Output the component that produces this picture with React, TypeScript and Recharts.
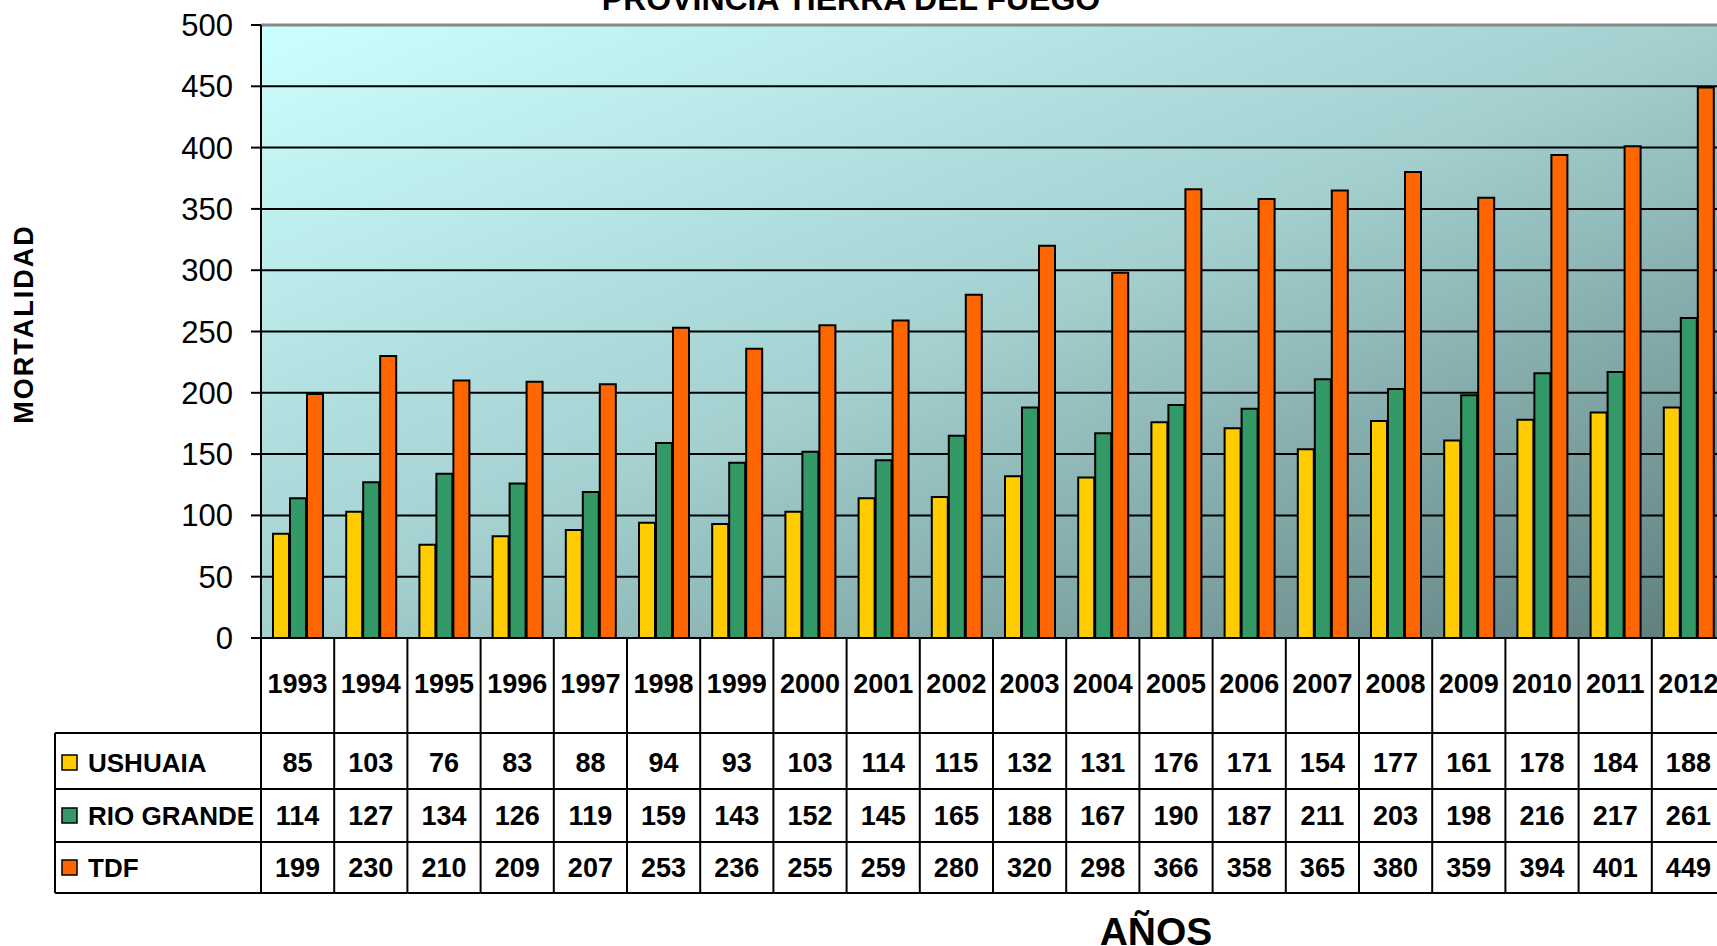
import { BarChart, Bar, XAxis, YAxis, CartesianGrid, ReferenceLine } from "recharts";

const years = [
  "1993", "1994", "1995", "1996", "1997", "1998", "1999", "2000", "2001", "2002",
  "2003", "2004", "2005", "2006", "2007", "2008", "2009", "2010", "2011", "2012",
];
const ushuaia = [85, 103, 76, 83, 88, 94, 93, 103, 114, 115, 132, 131, 176, 171, 154, 177, 161, 178, 184, 188];
const rioGrande = [114, 127, 134, 126, 119, 159, 143, 152, 145, 165, 188, 167, 190, 187, 211, 203, 198, 216, 217, 261];
const tdf = [199, 230, 210, 209, 207, 253, 236, 255, 259, 280, 320, 298, 366, 358, 365, 380, 359, 394, 401, 449];
const yTicks = [0, 50, 100, 150, 200, 250, 300, 350, 400, 450, 500];

const series = [
  { key: "ushuaia", name: "USHUAIA", color: "#FFCC00", values: ushuaia },
  { key: "rioGrande", name: "RIO GRANDE", color: "#339966", values: rioGrande },
  { key: "tdf", name: "TDF", color: "#FF6600", values: tdf },
];

const data = years.map((year, i) => ({
  year,
  ushuaia: ushuaia[i],
  rioGrande: rioGrande[i],
  tdf: tdf[i],
}));

const CHART_W = 1745;
const CHART_H = 946;
const MARGIN = { top: 25, right: 20, bottom: 53, left: 201 };
const Y_AXIS_W = 60;
const X_AXIS_H = 255;
const COL_W = (CHART_W - MARGIN.left - Y_AXIS_W - MARGIN.right) / years.length;

// row boundaries, relative to the axis line
const ROW_LINES = [95, 151, 204, 255];
const ROW_TEXT = [125, 178, 230];
const FONT = "'Liberation Sans', Arial, sans-serif";

function TableTick(props: any) {
  const { x, y, payload, index } = props;
  const left = x - COL_W / 2;
  const right = x + COL_W / 2;
  const textStyle = { fontFamily: FONT, fontWeight: "bold" as const, fontSize: 27, fill: "#000" };
  return (
    <g>
      {index === 0 && (
        <g>
          <line x1={left} y1={y} x2={left} y2={y + X_AXIS_H} stroke="#000" strokeWidth={2} />
          <line x1={55} y1={y + ROW_LINES[0]} x2={55} y2={y + X_AXIS_H} stroke="#000" strokeWidth={2} />
          {ROW_LINES.map((ry) => (
            <line key={ry} x1={55} y1={y + ry} x2={left} y2={y + ry} stroke="#000" strokeWidth={2} />
          ))}
          {series.map((s, i) => (
            <g key={s.key}>
              <rect x={62} y={y + ROW_TEXT[i] - 8} width={15} height={15} fill={s.color} stroke="#000" strokeWidth={1.5} />
              <text x={88} y={y + ROW_TEXT[i]} dominantBaseline="central" {...textStyle} fontSize={26}>
                {s.name}
              </text>
            </g>
          ))}
        </g>
      )}
      <line x1={right} y1={y} x2={right} y2={y + X_AXIS_H} stroke="#000" strokeWidth={2} />
      {ROW_LINES.map((ry) => (
        <line key={ry} x1={left} y1={y + ry} x2={right} y2={y + ry} stroke="#000" strokeWidth={2} />
      ))}
      <text x={x} y={y + 46} textAnchor="middle" dominantBaseline="central" {...textStyle}>
        {payload.value}
      </text>
      {series.map((s, i) => (
        <text key={s.key} x={x} y={y + ROW_TEXT[i]} textAnchor="middle" dominantBaseline="central" {...textStyle}>
          {s.values[index]}
        </text>
      ))}
    </g>
  );
}

export default function App() {
  return (
    <div
      style={{
        position: "absolute",
        left: 0,
        top: 0,
        width: 1717,
        height: 946,
        overflow: "hidden",
        background: "#fff",
        fontFamily: FONT,
      }}
    >
      <BarChart
        width={CHART_W}
        height={CHART_H}
        data={data}
        margin={MARGIN}
        barCategoryGap={12}
        barGap={1}
      >
        <defs>
          <linearGradient id="plotBg" x1="0" y1="0" x2="1" y2="1">
            <stop offset="0%" stopColor="#CCFFFF" />
            <stop offset="50%" stopColor="#A3CFCF" />
            <stop offset="100%" stopColor="#5E7D7D" />
          </linearGradient>
        </defs>
        <CartesianGrid vertical={false} stroke="#000" strokeWidth={2} fill="url(#plotBg)" fillOpacity={1} />
        <XAxis
          dataKey="year"
          height={X_AXIS_H}
          interval={0}
          tickLine={false}
          tickSize={0}
          tickMargin={0}
          axisLine={{ stroke: "#000", strokeWidth: 2 }}
          tick={<TableTick />}
        />
        <YAxis
          width={Y_AXIS_W}
          domain={[0, 500]}
          ticks={yTicks}
          interval={0}
          axisLine={{ stroke: "#000", strokeWidth: 2 }}
          tickLine={{ stroke: "#000", strokeWidth: 2 }}
          tickSize={10}
          tickMargin={18}
          tick={{ fontFamily: FONT, fontSize: 31, fill: "#000" }}
        />
        <ReferenceLine y={500} stroke="#888" strokeWidth={3} />
        {series.map((s) => (
          <Bar
            key={s.key}
            dataKey={s.key}
            name={s.name}
            fill={s.color}
            stroke="#000"
            strokeWidth={2}
            isAnimationActive={false}
          />
        ))}
      </BarChart>
      <svg
        width={1717}
        height={946}
        style={{ position: "absolute", left: 0, top: 0, pointerEvents: "none" }}
      >
        <text x={851} y={10} textAnchor="middle" fontFamily={FONT} fontWeight="bold" fontSize={32} fill="#000">
          PROVINCIA TIERRA DEL FUEGO
        </text>
        <text
          transform="translate(24,324) rotate(-90)"
          textAnchor="middle"
          dominantBaseline="central"
          fontFamily={FONT}
          fontWeight="bold"
          fontSize={27}
          letterSpacing={2}
          fill="#000"
        >
          MORTALIDAD
        </text>
        <text x={1156} y={945} textAnchor="middle" fontFamily={FONT} fontWeight="bold" fontSize={39} fill="#000">
          AÑOS
        </text>
      </svg>
    </div>
  );
}
